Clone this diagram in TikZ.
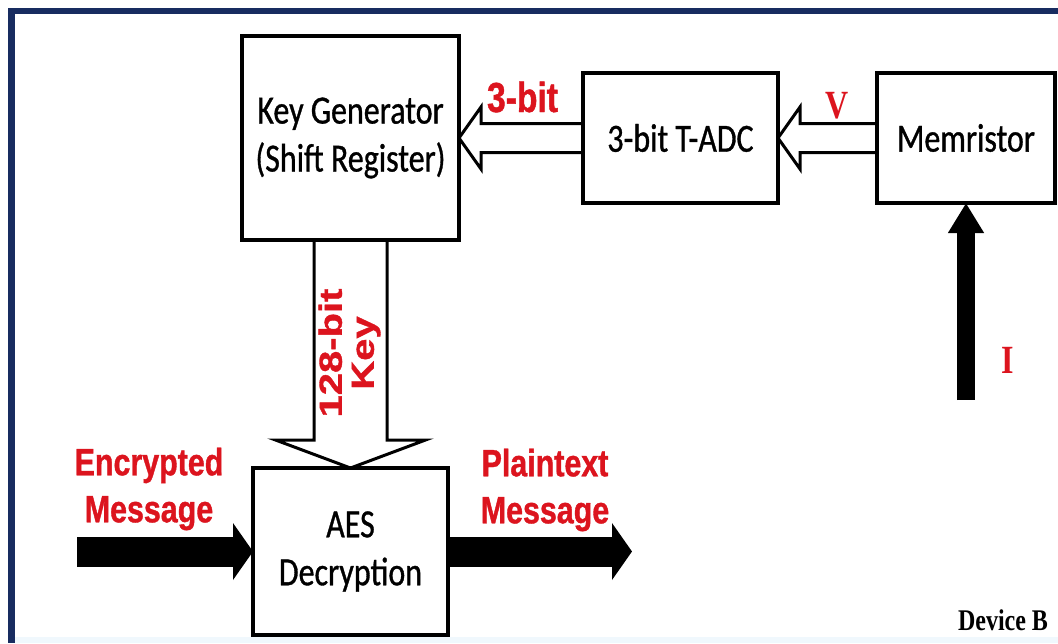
\documentclass[tikz,border=0pt]{standalone}
\usepackage{fontspec}
\usepackage{graphicx}
\usetikzlibrary{arrows.meta,calc,backgrounds}
\newfontfamily\calfont[FakeStretch=0.8,FakeBold=0.8]{Carlito}
\newfontfamily\sansfont[FakeStretch=0.8,FakeBold=1]{Liberation Sans}
\newfontfamily\sansplain[FakeBold=1]{Liberation Sans}
\newfontfamily\seriffont[FakeStretch=0.8]{Liberation Serif}
\definecolor{lblred}{RGB}{220,20,30}
\definecolor{framenavy}{RGB}{24,44,96}
\definecolor{edgeblue}{RGB}{240,248,253}
\begin{document}
\begin{tikzpicture}[x=0.5pt,y=-0.5pt,
  block/.style={draw=black, line width=2pt, align=center, inner sep=0pt, outer sep=0pt,
    font=\calfont\fontsize{20}{24}\selectfont},
  hollow/.style={draw=black, fill=white, line width=1.5pt, line join=miter},
  solidarrow/.style={draw=black, line width=15pt, -{Triangle[length=10pt,width=28pt]}},
  redlbl/.style={text=lblred, align=center, inner sep=0pt,
    font=\sansfont\bfseries\fontsize{19}{23.5}\selectfont},
  seriflbl/.style={inner sep=0pt, anchor=base,
    font=\seriffont\bfseries\fontsize{20}{24}\selectfont}
]
\useasboundingbox (0,0) rectangle (1058,643);

% page, frame and bottom tint
\begin{scope}[on background layer]
  \fill[white] (0,0) rectangle (1058,643);
  \fill[edgeblue] (15,637) rectangle (1058,643);
  \draw[framenavy, line width=3.5pt] (11.5,8) -- (11.5,643);
  \draw[framenavy, line width=2.75pt] (8,10.75) -- (1058,10.75);
\end{scope}

% blocks
\node[block, minimum width=108.5pt, minimum height=102pt] (kg) at (350.5,138) {Key Generator\\(Shift Register)};
\node[block, minimum width=97.5pt, minimum height=65pt] (adc) at (680.5,138) {3-bit T-ADC};
\node[block, minimum width=89pt, minimum height=65pt] (mem) at (966,138) {Memristor};
\node[block, minimum width=97.5pt, minimum height=83.5pt] (aes) at (350.5,551.5) {AES\\Decryption};

% hollow bus arrows
\begin{scope}[on background layer]
  \draw[hollow] (kg.east) -- ++(22,-31) -- ++(0,16.5) -- ($(adc.west)+(0,-14.5)$)
    -- ++(0,29) -- ($(kg.east)+(22,14.5)$) -- ++(0,16.5) -- cycle;
  \draw[hollow] (adc.east) -- ++(22,-31) -- ++(0,16.5) -- ($(mem.west)+(0,-14.5)$)
    -- ++(0,29) -- ($(adc.east)+(22,14.5)$) -- ++(0,16.5) -- cycle;
  \draw[hollow] ($(kg.south)+(-36.5,0)$) -- ($(aes.north)+(-36.5,-28)$) -- ++(-38.5,0)
    -- (aes.north) -- ++(75,-28) -- ++(-38.5,0) -- ($(kg.south)+(36.5,0)$);
\end{scope}

% solid signal arrows
\coordinate (encin) at (77,551.5);
\coordinate (plainout) at (632,551.5);
\coordinate (iin) at (966,400);
\draw[solidarrow] (encin) -- (aes.west);
\draw[solidarrow] (aes.east) -- (plainout);
\draw[solidarrow, line width=9pt, -{Triangle[length=15pt,width=17pt]}] (iin) -- (mem.south);

% labels
\node[redlbl] (enclbl) at (149,489) {Encrypted\\Message};
\node[redlbl] (plainlbl) at (545,490) {Plaintext\\Message};
\node[redlbl, anchor=base, font=\sansfont\bfseries\fontsize{21}{24}\selectfont] (bitlbl) at (522.5,112) {3-bit};
\node[text=lblred, inner sep=0pt,
  font=\sansplain\bfseries\fontsize{20}{20}\selectfont] (keylbl) at (351,353)
  {\rotatebox{90}{\scalebox{1}[0.8]{\begin{tabular}{@{}c@{}}128-bit\\Key\end{tabular}}}};
\node[seriflbl, text=lblred] (vlbl) at (837,118) {V};
\node[seriflbl, text=lblred] (ilbl) at (1008,373) {I};
\node[seriflbl, font=\seriffont\bfseries\fontsize{15}{18}\selectfont] (devlbl) at (1003,630) {Device B};
\end{tikzpicture}
\end{document}
